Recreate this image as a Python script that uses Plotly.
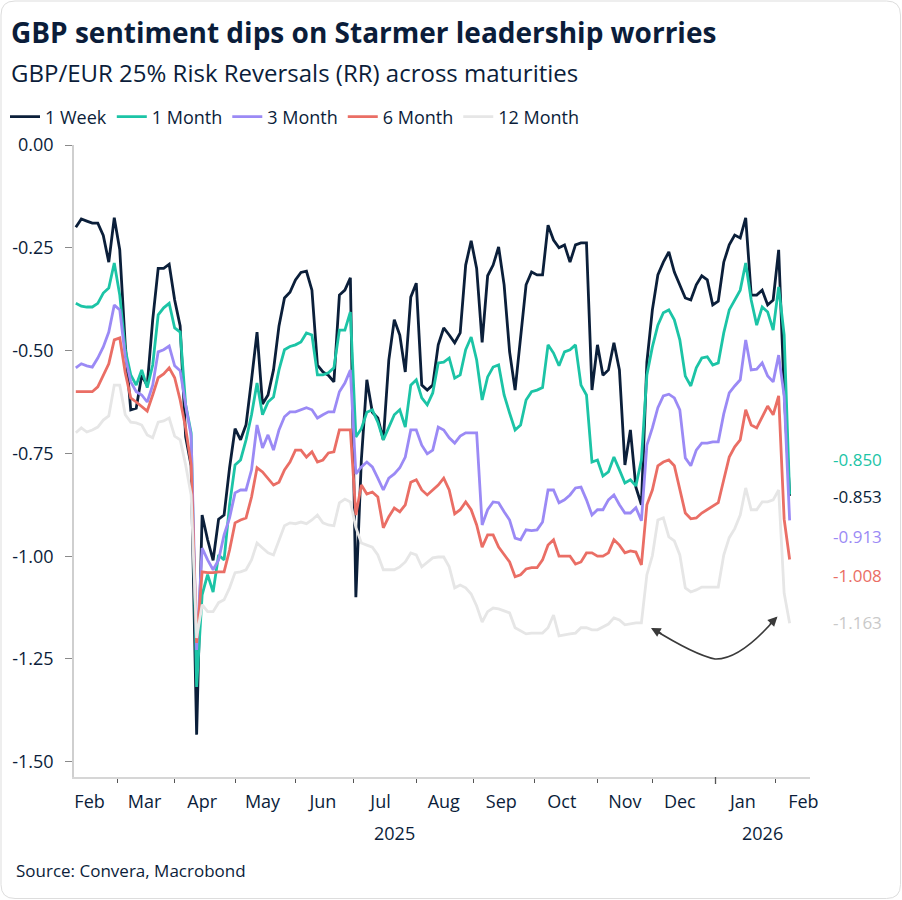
import pandas as pd
import plotly.graph_objects as go

# ---------------- data ----------------
series_names = ["1 Week", "1 Month", "3 Month", "6 Month", "12 Month"]

# every second business day, 10 Feb 2025 -> 9 Feb 2026
dates = pd.bdate_range("2025-02-10", "2026-02-09")[::2]

rr_1w = [-0.20, -0.18, -0.185, -0.19, -0.19, -0.22, -0.285, -0.177, -0.255, -0.486,
         -0.644, -0.64, -0.56, -0.585, -0.425, -0.30, -0.30, -0.29, -0.377, -0.44,
         -0.71, -0.78, -1.434, -0.90, -0.96, -1.01, -0.91, -0.90, -0.785, -0.69,
         -0.717, -0.68, -0.571, -0.455, -0.63, -0.608, -0.547, -0.44, -0.372, -0.358,
         -0.328, -0.31, -0.307, -0.353, -0.535, -0.552, -0.56, -0.576, -0.365, -0.353,
         -0.323, -1.10, -0.766, -0.571, -0.65, -0.664, -0.717, -0.523, -0.425, -0.462,
         -0.552, -0.37, -0.336, -0.584, -0.596, -0.584, -0.486, -0.445, -0.462, -0.481,
         -0.457, -0.292, -0.233, -0.30, -0.48, -0.318, -0.292, -0.248, -0.34, -0.503,
         -0.596, -0.462, -0.34, -0.309, -0.316, -0.316, -0.195, -0.231, -0.25, -0.243,
         -0.285, -0.243, -0.238, -0.238, -0.596, -0.486, -0.56, -0.547, -0.481, -0.547,
         -0.778, -0.693, -0.832, -0.875, -0.528, -0.401, -0.316, -0.285, -0.26, -0.309,
         -0.34, -0.372, -0.377, -0.34, -0.318, -0.328, -0.389, -0.38, -0.285, -0.243,
         -0.219, -0.226, -0.177, -0.365, -0.365, -0.353, -0.389, -0.377, -0.255, -0.60,
         -0.853]

rr_1m = [-0.385, -0.392, -0.394, -0.394, -0.385, -0.36, -0.348, -0.287, -0.365, -0.498,
         -0.559, -0.584, -0.547, -0.59, -0.535, -0.413, -0.396, -0.385, -0.445, -0.455,
         -0.632, -0.70, -1.318, -1.094, -1.045, -1.087, -0.997, -1.009, -0.875, -0.778,
         -0.766, -0.717, -0.656, -0.579, -0.656, -0.625, -0.613, -0.547, -0.498, -0.49,
         -0.486, -0.479, -0.457, -0.462, -0.559, -0.559, -0.554, -0.542, -0.45, -0.45,
         -0.406, -0.71, -0.69, -0.65, -0.644, -0.674, -0.717, -0.688, -0.656, -0.644,
         -0.686, -0.584, -0.571, -0.615, -0.632, -0.603, -0.53, -0.528, -0.518, -0.567,
         -0.559, -0.498, -0.467, -0.523, -0.62, -0.564, -0.54, -0.535, -0.608, -0.652,
         -0.693, -0.681, -0.62, -0.60, -0.596, -0.59, -0.486, -0.506, -0.537, -0.503,
         -0.498, -0.486, -0.584, -0.608, -0.771, -0.766, -0.805, -0.795, -0.759, -0.79,
         -0.822, -0.814, -0.829, -0.766, -0.559, -0.491, -0.438, -0.408, -0.401, -0.425,
         -0.474, -0.562, -0.586, -0.542, -0.518, -0.515, -0.535, -0.53, -0.457, -0.401,
         -0.377, -0.353, -0.287, -0.377, -0.438, -0.394, -0.406, -0.45, -0.345, -0.462,
         -0.850]

rr_3m = [-0.542, -0.532, -0.537, -0.54, -0.518, -0.491, -0.455, -0.389, -0.401, -0.515,
         -0.576, -0.60, -0.608, -0.625, -0.584, -0.503, -0.498, -0.489, -0.537, -0.549,
         -0.632, -0.708, -1.228, -0.98, -1.009, -1.033, -1.009, -0.948, -0.907, -0.846,
         -0.839, -0.839, -0.79, -0.681, -0.737, -0.705, -0.742, -0.693, -0.661, -0.649,
         -0.649, -0.644, -0.639, -0.644, -0.664, -0.656, -0.649, -0.649, -0.60, -0.579,
         -0.547, -0.80, -0.783, -0.771, -0.783, -0.81, -0.839, -0.81, -0.80, -0.785,
         -0.759, -0.693, -0.693, -0.73, -0.751, -0.742, -0.686, -0.693, -0.712, -0.725,
         -0.708, -0.70, -0.70, -0.70, -0.924, -0.887, -0.868, -0.87, -0.892, -0.912,
         -0.956, -0.96, -0.936, -0.938, -0.936, -0.917, -0.839, -0.839, -0.87, -0.863,
         -0.851, -0.834, -0.832, -0.863, -0.90, -0.887, -0.887, -0.863, -0.851, -0.875,
         -0.895, -0.895, -0.882, -0.914, -0.73, -0.688, -0.639, -0.61, -0.606, -0.615,
         -0.644, -0.761, -0.78, -0.742, -0.725, -0.725, -0.722, -0.722, -0.654, -0.603,
         -0.586, -0.571, -0.474, -0.547, -0.545, -0.53, -0.562, -0.576, -0.511, -0.61,
         -0.913]

rr_6m = [-0.60, -0.60, -0.60, -0.60, -0.588, -0.559, -0.532, -0.474, -0.469, -0.554,
         -0.615, -0.625, -0.637, -0.647, -0.608, -0.566, -0.557, -0.542, -0.566, -0.62,
         -0.688, -0.778, -1.211, -1.038, -1.04, -1.04, -1.038, -1.038, -0.985, -0.919,
         -0.912, -0.907, -0.856, -0.785, -0.795, -0.81, -0.827, -0.82, -0.79, -0.771,
         -0.742, -0.742, -0.759, -0.746, -0.771, -0.766, -0.749, -0.746, -0.693, -0.693,
         -0.693, -0.90, -0.827, -0.849, -0.844, -0.856, -0.931, -0.904, -0.883, -0.892,
         -0.875, -0.82, -0.814, -0.839, -0.851, -0.839, -0.827, -0.81, -0.839, -0.897,
         -0.887, -0.868, -0.887, -0.924, -0.978, -0.948, -0.948, -0.978, -0.997, -1.014,
         -1.05, -1.045, -1.031, -1.028, -1.028, -1.009, -0.973, -0.96, -1.0, -1.0,
         -1.0, -1.019, -1.014, -0.992, -0.992, -1.0, -1.0, -0.992, -0.96, -0.973,
         -0.992, -0.987, -0.99, -1.021, -0.875, -0.839, -0.78, -0.771, -0.766, -0.78,
         -0.839, -0.895, -0.909, -0.907, -0.895, -0.887, -0.88, -0.87, -0.814, -0.759,
         -0.734, -0.717, -0.644, -0.681, -0.688, -0.661, -0.635, -0.656, -0.61, -0.91,
         -1.008]

rr_12m = [-0.70, -0.688, -0.698, -0.693, -0.686, -0.669, -0.659, -0.584, -0.584, -0.656,
          -0.674, -0.676, -0.681, -0.705, -0.712, -0.674, -0.671, -0.664, -0.708, -0.717,
          -0.778, -0.851, -1.199, -1.118, -1.135, -1.135, -1.113, -1.106, -1.077, -1.04,
          -1.038, -1.033, -1.009, -0.968, -0.98, -0.992, -0.997, -0.96, -0.926, -0.919,
          -0.921, -0.917, -0.921, -0.912, -0.90, -0.919, -0.924, -0.926, -0.87, -0.861,
          -0.868, -0.93, -0.968, -0.973, -0.978, -0.997, -1.033, -1.033, -1.033, -1.026,
          -1.014, -0.992, -0.997, -1.026, -1.014, -1.004, -1.002, -1.002, -1.026, -1.077,
          -1.07, -1.077, -1.092, -1.121, -1.16, -1.135, -1.126, -1.128, -1.133, -1.138,
          -1.174, -1.182, -1.189, -1.187, -1.187, -1.187, -1.174, -1.143, -1.194, -1.191,
          -1.189, -1.187, -1.174, -1.174, -1.179, -1.179, -1.172, -1.165, -1.15, -1.155,
          -1.167, -1.165, -1.162, -1.162, -1.045, -0.999, -0.912, -0.907, -0.953, -0.963,
          -0.997, -1.077, -1.087, -1.082, -1.075, -1.075, -1.075, -1.075, -0.997, -0.955,
          -0.933, -0.90, -0.834, -0.887, -0.887, -0.868, -0.868, -0.863, -0.839, -1.09,
          -1.163]

series_values = [rr_1w, rr_1m, rr_3m, rr_6m, rr_12m]

y_tick_vals = [0.0, -0.25, -0.5, -0.75, -1.0, -1.25, -1.5]
y_tick_text = ["0.00", "-0.25", "-0.50", "-0.75", "-1.00", "-1.25", "-1.50"]
month_names = ["Feb", "Mar", "Apr", "May", "Jun", "Jul", "Aug", "Sep", "Oct", "Nov", "Dec", "Jan", "Feb"]
year_labels = ["2025", "2026"]

# ---------------- style ----------------
line_colors = ["#0b1f3a", "#1cc4a6", "#9b8af5", "#ea6e65", "#e6e6e6"]
label_colors = ["#0b1f3a", "#1cc4a6", "#9b8af5", "#ea6e65", "#c9c9c9"]
label_y_pos = [-0.856, -0.766, -0.951, -1.048, -1.162]  # de-overlapped end-label positions
TEXT = "#0b1d3a"
FONT = "Open Sans"

W, H = 902, 900
L, R, T, B = 74, 92, 145, 123
PW, PH = W - L - R, H - T - B


def px(x):
    return (x - L) / PW


def py(y):
    return (H - B - y) / PH


month_starts = [pd.offsets.BDay().rollforward(d)
                for d in pd.date_range("2025-03-01", "2026-02-01", freq="MS")]
month_mids = [pd.offsets.BDay().rollforward(d + pd.Timedelta(days=14))
              for d in pd.date_range("2025-02-01", "2026-02-01", freq="MS")]
x_range = ["2025-02-07 08:00", "2026-02-18 10:00"]
breaks = [dict(bounds=["sat", "mon"])]

fig = go.Figure()
for name, vals, col in zip(series_names, series_values, line_colors):
    fig.add_trace(go.Scatter(x=dates, y=vals, name=name, mode="lines",
                             line=dict(color=col, width=2.8), hoverinfo="skip"))
fig.add_trace(go.Scatter(x=[dates[0]], y=[None], xaxis="x2", showlegend=False,
                         hoverinfo="skip"))

annotations = []
for vals, col, ly in zip(series_values, label_colors, label_y_pos):
    annotations.append(dict(x=px(831), xref="paper", y=ly, yref="y",
                            text=f"{vals[-1]:.3f}", showarrow=False,
                            xanchor="left", yanchor="middle",
                            font=dict(size=17, color=col, family=FONT)))

annotations.append(dict(x=px(394), y=py(833), xref="paper", yref="paper",
                        text=year_labels[0], showarrow=False, xanchor="center",
                        yanchor="middle", font=dict(size=18, color=TEXT, family=FONT)))
annotations.append(dict(x=px(762), y=py(833), xref="paper", yref="paper",
                        text=year_labels[1], showarrow=False, xanchor="center",
                        yanchor="middle", font=dict(size=18, color=TEXT, family=FONT)))
annotations.append(dict(x=px(14), y=py(870), xref="paper", yref="paper",
                        text="Source: Convera, Macrobond", showarrow=False,
                        xanchor="left", yanchor="middle",
                        font=dict(size=17, color=TEXT, family=FONT)))
annotations.append(dict(x=px(9), y=py(72), xref="paper", yref="paper",
                        text="GBP/EUR 25% Risk Reversals (RR) across maturities",
                        showarrow=False, xanchor="left", yanchor="middle",
                        font=dict(size=24, color=TEXT, family=FONT)))
# arrowheads of the curved arrow
ARROW = "#3a3a3a"
annotations.append(dict(x=px(651), y=py(628), xref="paper", yref="paper", text="",
                        showarrow=True, ax=12, ay=6.5, arrowhead=2, arrowsize=1.2,
                        arrowwidth=1.6, arrowcolor=ARROW))
annotations.append(dict(x=px(777.5), y=py(616.5), xref="paper", yref="paper", text="",
                        showarrow=True, ax=-9, ay=9, arrowhead=2, arrowsize=1.2,
                        arrowwidth=1.6, arrowcolor=ARROW))

curve = (f"M {px(653)} {py(629)} Q {px(695)} {py(655)} {px(715)} {py(659)} "
         f"Q {px(740)} {py(660)} {px(776)} {py(618)}")

# rounded card border
x0, x1, y0, y1, r = 1, 900.5, 1, 898.5, 14
border = (f"M {px(x0 + r)} {py(y0)} L {px(x1 - r)} {py(y0)} Q {px(x1)} {py(y0)} {px(x1)} {py(y0 + r)} "
          f"L {px(x1)} {py(y1 - r)} Q {px(x1)} {py(y1)} {px(x1 - r)} {py(y1)} "
          f"L {px(x0 + r)} {py(y1)} Q {px(x0)} {py(y1)} {px(x0)} {py(y1 - r)} "
          f"L {px(x0)} {py(y0 + r)} Q {px(x0)} {py(y0)} {px(x0 + r)} {py(y0)} Z")

shapes = [
    dict(type="path", path=curve, xref="paper", yref="paper",
         line=dict(color=ARROW, width=1.6)),
    dict(type="line", xref="x", yref="paper", x0="2026-01-01", x1="2026-01-01",
         y0=0, y1=-7 / PH, line=dict(color="#555555", width=1.3)),
    dict(type="path", path=border, xref="paper", yref="paper",
         line=dict(color="#dddddd", width=1)),
]

fig.update_layout(
    width=W, height=H,
    margin=dict(l=L, r=R, t=T, b=B, autoexpand=False),
    paper_bgcolor="white", plot_bgcolor="white",
    font=dict(family=FONT, color=TEXT, size=18),
    title=dict(text="<b>GBP sentiment dips on Starmer leadership worries</b>",
               x=11 / W, xanchor="left", y=1 - 33 / H, yanchor="middle",
               xref="container", yref="container",
               font=dict(size=28, color=TEXT, family=FONT)),
    showlegend=True,
    legend=dict(orientation="h", x=px(5), y=py(117), xanchor="left", yanchor="middle",
                font=dict(size=18, color=TEXT, family=FONT),
                bgcolor="rgba(0,0,0,0)", itemwidth=30, traceorder="normal"),
    xaxis=dict(range=x_range, rangebreaks=breaks, tickmode="array",
               tickvals=month_starts, ticktext=[""] * len(month_starts),
               ticks="outside", ticklen=4, tickwidth=1, tickcolor="#555555",
               showline=True, linecolor="#d6d6d6", linewidth=2,
               showgrid=False, zeroline=False, automargin=False),
    xaxis2=dict(overlaying="x", matches="x", side="bottom", range=x_range,
                rangebreaks=breaks, tickmode="array", tickvals=month_mids,
                ticktext=month_names, ticks="", showline=False, showgrid=False,
                zeroline=False, ticklabelstandoff=12, automargin=False,
                tickfont=dict(size=18, color=TEXT, family=FONT)),
    yaxis=dict(range=[-1.537, 0], tickmode="array", tickvals=y_tick_vals,
               ticktext=y_tick_text, ticks="outside", ticklen=7, tickwidth=1,
               tickcolor="#8a8a8a", showline=True, linecolor="#cfcfcf", linewidth=1.5,
               showgrid=False, zeroline=False, ticklabelstandoff=8, automargin=False,
               tickfont=dict(size=18, color=TEXT, family=FONT)),
    annotations=annotations,
    shapes=shapes,
)

fig.write_html("out.html")
